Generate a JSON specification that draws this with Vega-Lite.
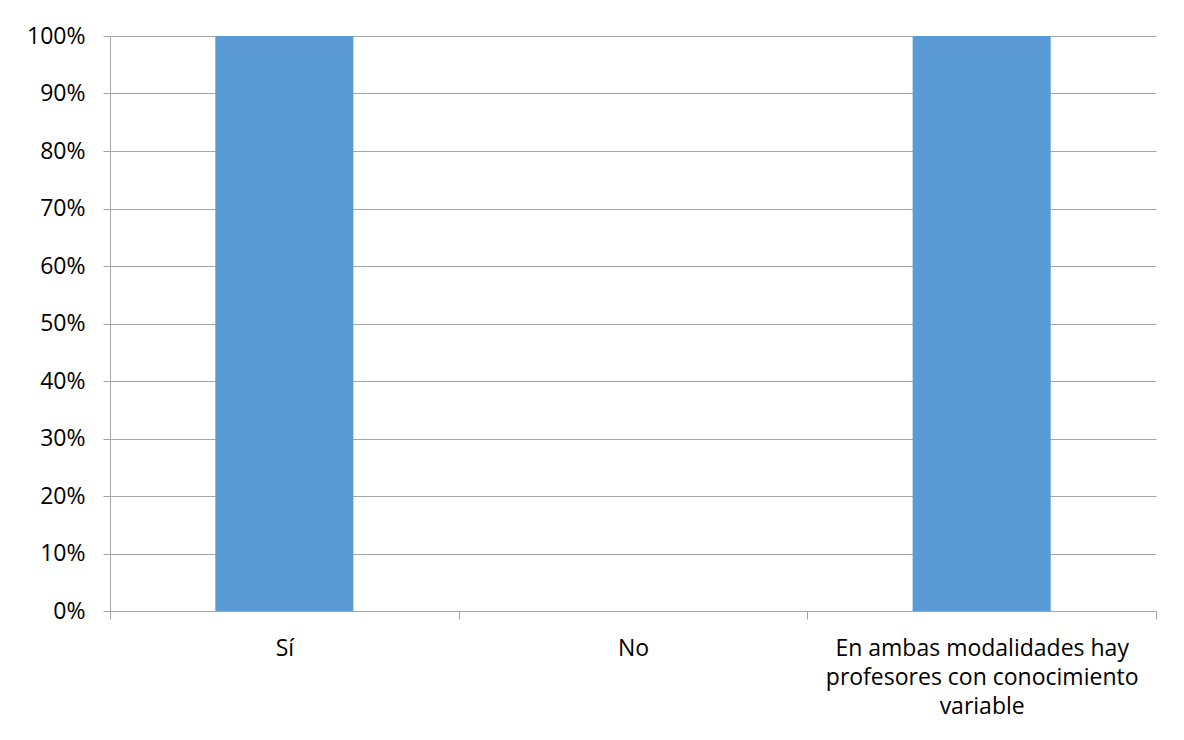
{
  "$schema": "https://vega.github.io/schema/vega-lite/v6.json",
  "autosize": {"type": "none"},
  "width": 1046,
  "height": 575,
  "padding": {"left": 110, "top": 36, "right": 28, "bottom": 129},
  "background": "white",
  "config": {
    "view": {"stroke": null},
    "font": "Open Sans",
    "axis": {
      "labelFont": "Open Sans",
      "labelFontSize": 23,
      "labelColor": "#000000",
      "domainColor": "#a6a6a6",
      "tickColor": "#a6a6a6",
      "gridColor": "#a6a6a6",
      "domainWidth": 1,
      "tickWidth": 1,
      "gridWidth": 1
    }
  },
  "data": {
    "values": [
      {"categoria": "Sí", "porcentaje": 1},
      {"categoria": "No", "porcentaje": 0},
      {"categoria": "En ambas modalidades hay profesores con conocimiento variable", "porcentaje": 1}
    ]
  },
  "mark": {"type": "bar", "color": "#5B9BD5", "width": {"band": 0.396}},
  "encoding": {
    "x": {
      "field": "categoria",
      "type": "nominal",
      "sort": null,
      "scale": {"paddingInner": 0, "paddingOuter": 0},
      "axis": {
        "title": null,
        "labelAngle": 0,
        "tickBand": "extent",
        "tickSize": 8,
        "labelPadding": 18,
        "labelLineHeight": 29,
        "labelLimit": 0,
        "labelExpr": "datum.label == 'En ambas modalidades hay profesores con conocimiento variable' ? ['En ambas modalidades hay', 'profesores con conocimiento', 'variable'] : datum.label"
      }
    },
    "y": {
      "field": "porcentaje",
      "type": "quantitative",
      "scale": {"domain": [0, 1], "nice": false},
      "axis": {
        "title": null,
        "format": ".0%",
        "values": [0, 0.1, 0.2, 0.3, 0.4, 0.5, 0.6, 0.7, 0.8, 0.9, 1],
        "grid": true,
        "tickSize": 7,
        "labelPadding": 18
      }
    }
  }
}
